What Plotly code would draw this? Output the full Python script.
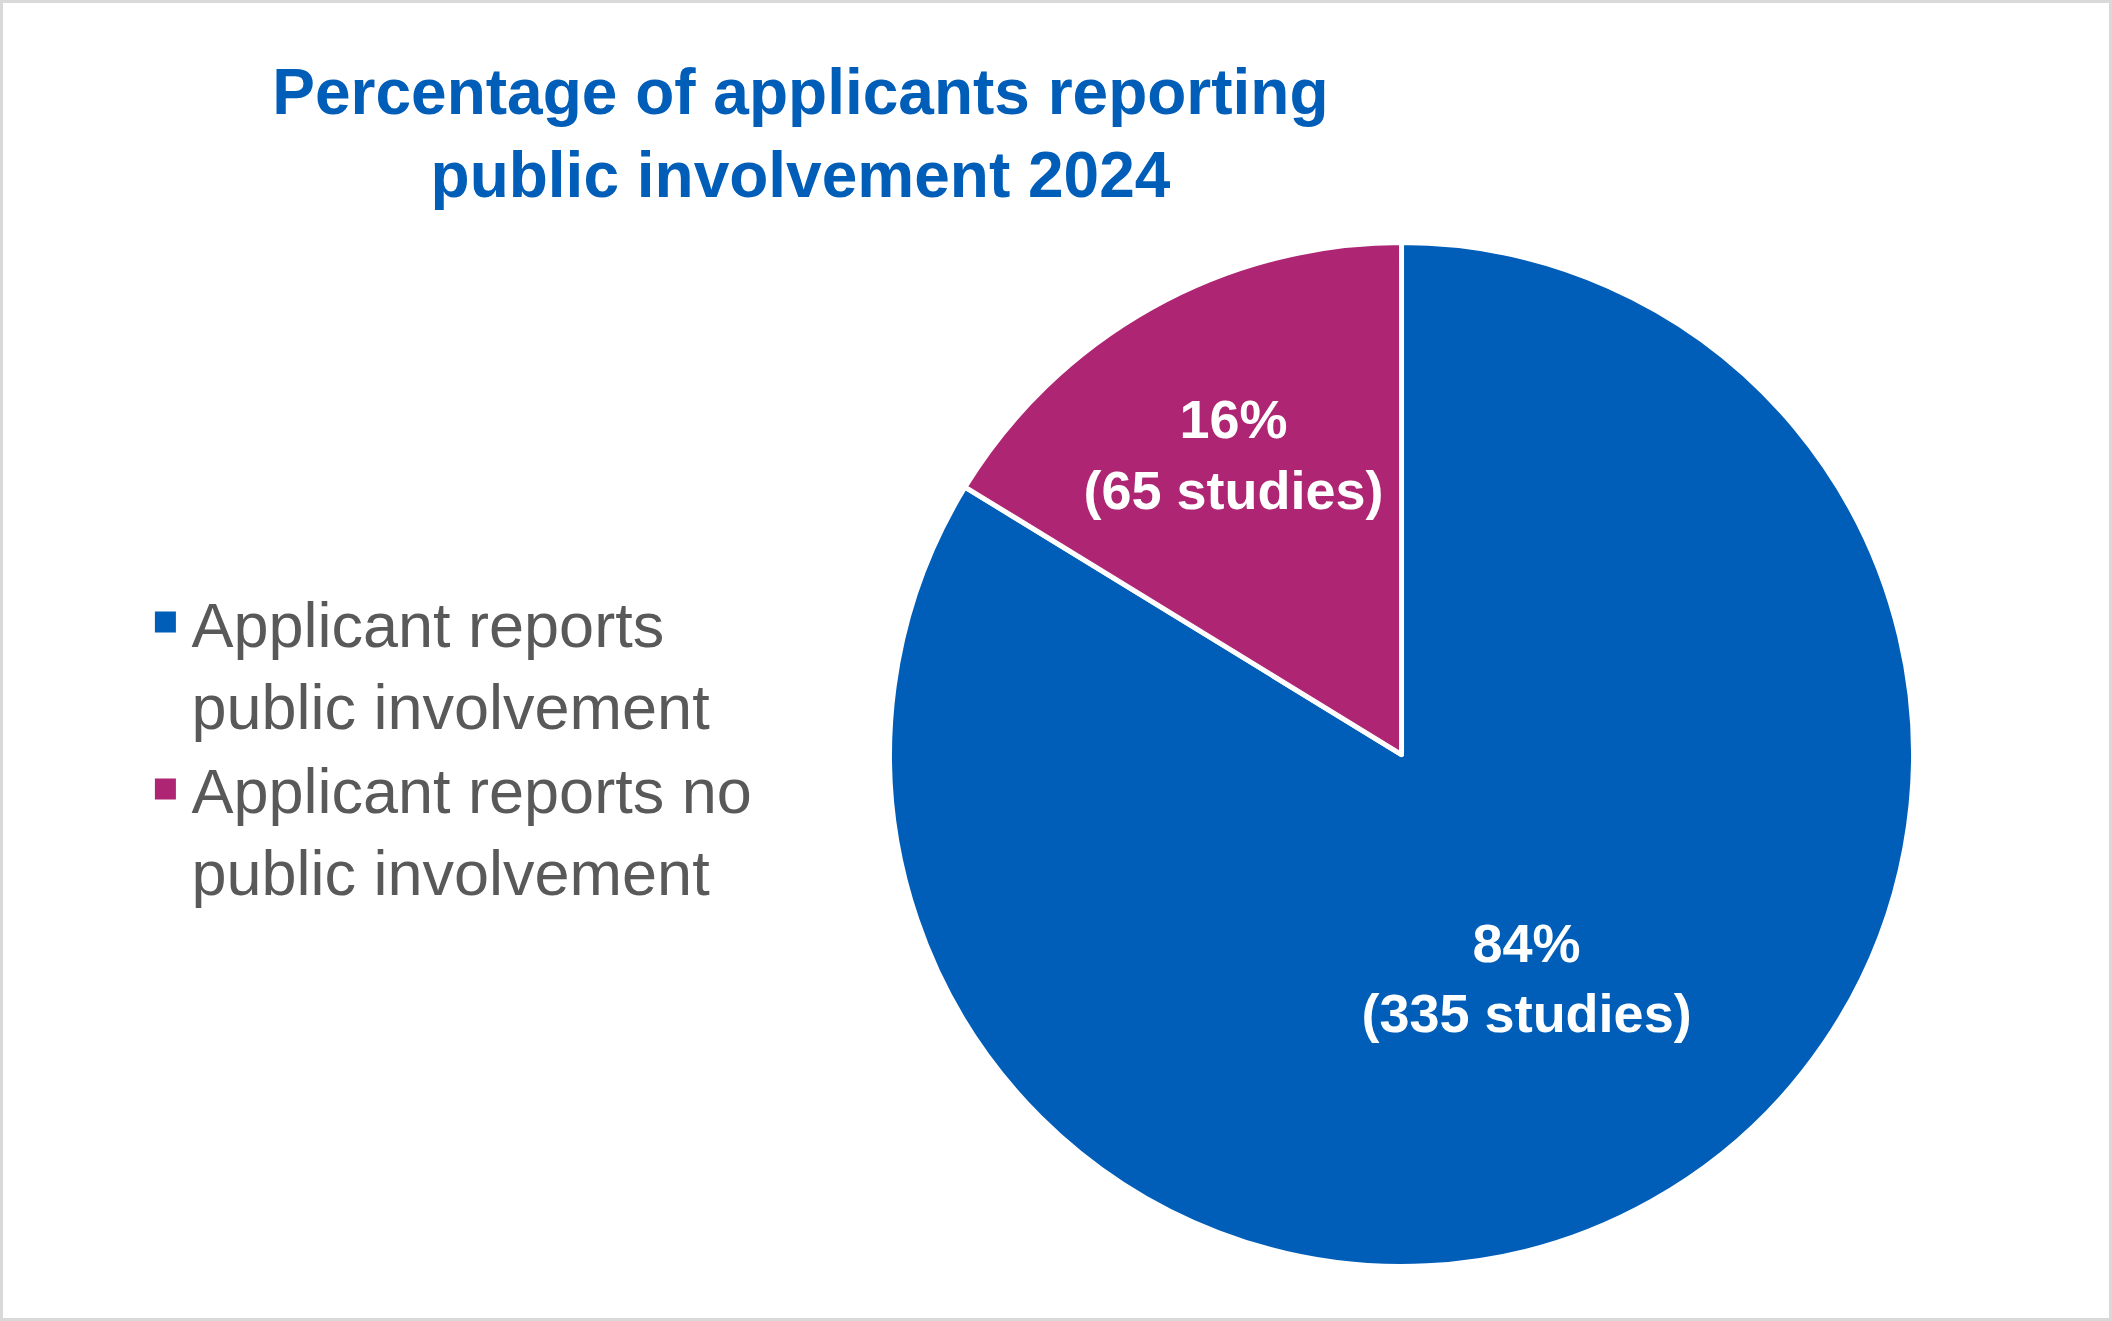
import plotly.graph_objects as go

# dados do gráfico
categorias = ['Applicant reports<br>public involvement', 'Applicant reports no<br>public involvement']
estudos = [335, 65]
cores = ['#005EB8', '#AE2573']

titulo = 'Percentage of applicants reporting<br>public involvement 2024'

fig = go.Figure()

# pizza (sem legenda própria: o quadradinho da legenda fica coberto pela borda branca)
fig.add_trace(go.Pie(
    labels=categorias,
    values=estudos,
    sort=False,
    direction='clockwise',
    rotation=0,
    marker=dict(colors=cores, line=dict(color='white', width=5)),
    texttemplate='%{percent:.0%}<br>(%{value} studies)',
    textposition='inside',
    insidetextorientation='horizontal',
    textfont=dict(family='Arial, Liberation Sans', size=54, color='white', weight='bold'),
    domain=dict(x=[0.4212, 0.9060], y=[0.0412, 0.8164]),
    hoverinfo='label+value+percent',
    showlegend=False,
))

# entradas da legenda com quadrados maiores
for nome, cor in zip(categorias, cores):
    fig.add_trace(go.Scatter(
        x=[None], y=[None], mode='markers', name=nome,
        marker=dict(symbol='square', size=16, color=cor, line=dict(color=cor, width=5)),
    ))

fig.update_layout(
    width=2112,
    height=1321,
    margin=dict(l=0, r=0, t=0, b=0),
    paper_bgcolor='white',
    plot_bgcolor='white',
    font=dict(family='Arial, Liberation Sans', color='#595959'),
    xaxis=dict(visible=False),
    yaxis=dict(visible=False),
    title=dict(
        text=titulo,
        x=0.379, xanchor='center',
        y=0.914, yanchor='top',
        font=dict(size=64, color='#005EB8', weight='bold'),
    ),
    legend=dict(
        x=0.066, xanchor='left',
        y=0.565, yanchor='top',
        valign='top',
        itemwidth=42,
        font=dict(size=63, color='#595959'),
        bgcolor='rgba(0,0,0,0)',
    ),
    shapes=[dict(type='rect', xref='paper', yref='paper', x0=0, y0=0, x1=1, y1=1,
                 line=dict(color='#D9D9D9', width=6), layer='above')],
)

# tira a margem padrão do body para a figura ocupar a janela toda
fig.write_html('out.html', config={'displayModeBar': False},
               post_script="document.body.style.margin='0';")
